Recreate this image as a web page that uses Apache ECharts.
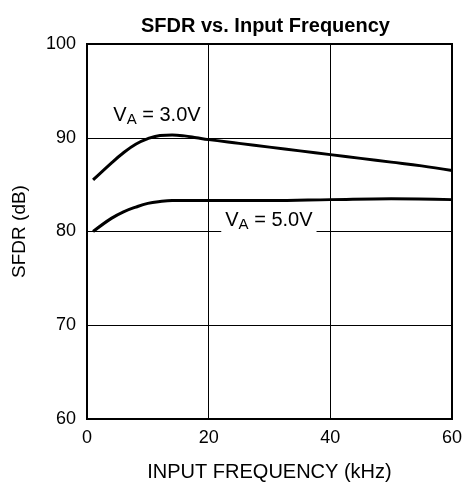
<!DOCTYPE html>
<html>
<head>
<meta charset="utf-8">
<script src="https://cdn.jsdelivr.net/npm/echarts@6/dist/echarts.min.js"></script>
<style>
  html, body { margin: 0; padding: 0; background: #fff; }
  #chart { width: 466px; height: 487px; }
</style>
</head>
<body>
<div id="chart"></div>
<script>
// frequency (kHz) and SFDR (dB)
const freq3v = [1, 4, 6, 8, 10, 12, 14, 16, 18, 20, 25, 30, 35, 40, 45, 50, 55, 60];
const sfdr3v = [85.5, 87.3, 88.4, 89.3, 89.9, 90.25, 90.3, 90.2, 90.0, 89.8, 89.4, 89.0, 88.6, 88.2, 87.8, 87.4, 87.0, 86.5];
const freq5v = [1, 4, 6, 8, 10, 12, 14, 16, 20, 30, 40, 50, 60];
const sfdr5v = [80.0, 81.4, 82.1, 82.6, 83.0, 83.2, 83.3, 83.3, 83.3, 83.3, 83.4, 83.5, 83.4];

// curve labels: [kHz, dB, supply]
const curveLabels = [
  [11.5, 92.2, '3.0V'],
  [29.9, 81.05, '5.0V']
];

const FONT = '"Liberation Sans", Arial, sans-serif';

function pairs(xs, ys) {
  return xs.map((x, i) => [x, ys[i]]);
}

const chart = echarts.init(document.getElementById('chart'));

const labelRich = {
  v: { fontSize: 20, fontFamily: FONT, color: '#000', textBorderWidth: 0 },
  sub: { fontSize: 15, fontFamily: FONT, color: '#000', textBorderWidth: 0, padding: [9, 0, 0, 0] }
};

chart.setOption({
  backgroundColor: '#fff',
  animation: false,
  title: {
    text: 'SFDR vs. Input Frequency',
    left: 136,
    top: 11,
    textStyle: { fontSize: 20, fontWeight: 'bold', fontFamily: FONT, color: '#000' }
  },
  grid: {
    left: 87, right: 14, top: 44, bottom: 65,
    show: true, borderColor: '#000', borderWidth: 2
  },
  xAxis: {
    type: 'value',
    min: 0, max: 60, interval: 20,
    name: 'INPUT FREQUENCY (kHz)',
    nameLocation: 'middle',
    nameGap: 43,
    nameTextStyle: { fontSize: 20, fontFamily: FONT, color: '#000' },
    axisLine: { show: true, lineStyle: { color: '#000', width: 2 } },
    axisTick: { show: false },
    axisLabel: { fontSize: 18, fontFamily: FONT, color: '#000', margin: 10 },
    splitLine: { show: true, lineStyle: { color: '#000', width: 1 } }
  },
  yAxis: {
    type: 'value',
    min: 60, max: 100, interval: 10,
    name: 'SFDR (dB)',
    nameLocation: 'middle',
    nameGap: 58,
    nameTextStyle: { fontSize: 19, fontFamily: FONT, color: '#000' },
    axisLine: { show: true, lineStyle: { color: '#000', width: 2 } },
    axisTick: { show: false },
    axisLabel: { fontSize: 18, fontFamily: FONT, color: '#000', margin: 11 },
    splitLine: { show: true, lineStyle: { color: '#000', width: 1 } }
  },
  series: [
    {
      name: 'VA = 3.0V',
      type: 'line',
      data: pairs(freq3v, sfdr3v),
      smooth: 0.4,
      showSymbol: false,
      lineStyle: { color: '#000', width: 3 }
    },
    {
      name: 'VA = 5.0V',
      type: 'line',
      data: pairs(freq5v, sfdr5v),
      smooth: 0.4,
      showSymbol: false,
      lineStyle: { color: '#000', width: 3 }
    },
    {
      name: 'labels',
      type: 'scatter',
      symbolSize: 0,
      z: 5,
      itemStyle: { color: '#000', opacity: 1 },
      data: curveLabels.map(d => ({
        value: [d[0], d[1]],
        label: {
          show: true,
          position: 'inside',
          color: '#000',
          opacity: 1,
          textBorderWidth: 0,
          formatter: '{v|V}{sub|A}{v| = ' + d[2] + '}',
          rich: labelRich,
          backgroundColor: '#fff',
          padding: [0, 4, 3, 4]
        }
      }))
    }
  ]
});
</script>
</body>
</html>
